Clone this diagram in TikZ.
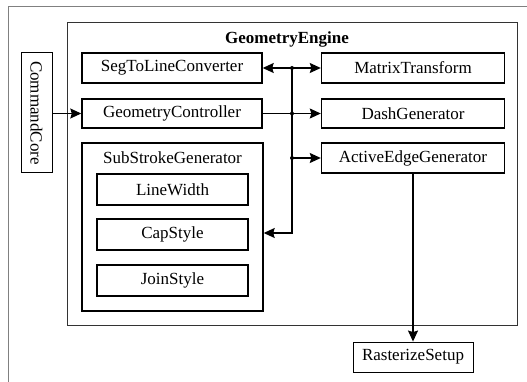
\documentclass[tikz,border=0pt]{standalone}
\usepackage{fontspec}
\setmainfont{Liberation Serif}
\usetikzlibrary{arrows.meta}
\begin{document}
\begin{tikzpicture}[>={Stealth[length=11pt,width=10pt,inset=1.5pt]},x=1pt,y=-1pt,
	font=\fontsize{17}{19}\selectfont,
	box/.style={draw,line width=1.4pt,inner sep=0pt,minimum height=30pt},
	conn/.style={line width=1.2pt},
	dot/.style={circle,fill,inner sep=0pt,minimum size=4pt}]
			\useasboundingbox (0,0) rectangle (527,382);
			% frame lines
			\draw[gray,line width=0.8pt] (8,382) -- (8,6) -- (527,6);
			\draw[line width=1pt,black!80] (67,23) rectangle (517,325);
			\node[font=\fontsize{17}{19}\selectfont\bfseries] (engine) at (287,39) {GeometryEngine};
			% left column
			\node[box,line width=1pt,minimum width=31pt,minimum height=120pt] (cmd) at (36.5,113) {};
			\node[rotate=-90] (cmdtxt) at (cmd.center) {CommandCore};
			\node[box,minimum width=180pt] (seg) at (172,68) {SegToLineConverter};
			\node[box,minimum width=180pt,minimum height=29pt] (ctrl) at (172,113.5) {GeometryController};
			\node[box,minimum width=181pt,minimum height=168pt] (sub) at (172.5,227) {};
			\node (subtxt) at (172.5,158) {SubStrokeGenerator};
			\node[box,minimum width=151pt,minimum height=31pt] (lw) at (172.5,189.5) {LineWidth};
			\node[box,minimum width=151pt,minimum height=31pt] (cap) at (172.5,234.5) {CapStyle};
			\node[box,minimum width=151pt,minimum height=31pt] (join) at (172.5,280.5) {JoinStyle};
			% right column
			\node[box,minimum width=183pt] (mat) at (413,68) {MatrixTransform};
			\node[box,minimum width=183pt,minimum height=29pt] (dash) at (413,113.5) {DashGenerator};
			\node[box,minimum width=183pt] (aeg) at (413,158) {ActiveEdgeGenerator};
			\node[box,line width=0.9pt,minimum width=120pt] (ras) at (413,357) {RasterizeSetup};
			% bus
			\coordinate (b1) at (292,68);
			\coordinate (b2) at (292,113.5);
			\coordinate (b3) at (292,158);
			\coordinate (b4) at (292,233);
			\draw[conn,<->] (seg) -- (mat);
			\draw[conn,->] (cmd.east |- ctrl) -- (ctrl);
			\draw[conn,->] (ctrl) -- (dash);
			\draw[conn,->] (b3) -- (aeg);
			\draw[conn,->] (b1) -- (b4) -- (sub.east |- b4);
			\draw[conn,->] (aeg) -- (ras);
			\foreach \p in {b1,b2,b3} \node[dot] at (\p) {};
\end{tikzpicture}
\end{document}
